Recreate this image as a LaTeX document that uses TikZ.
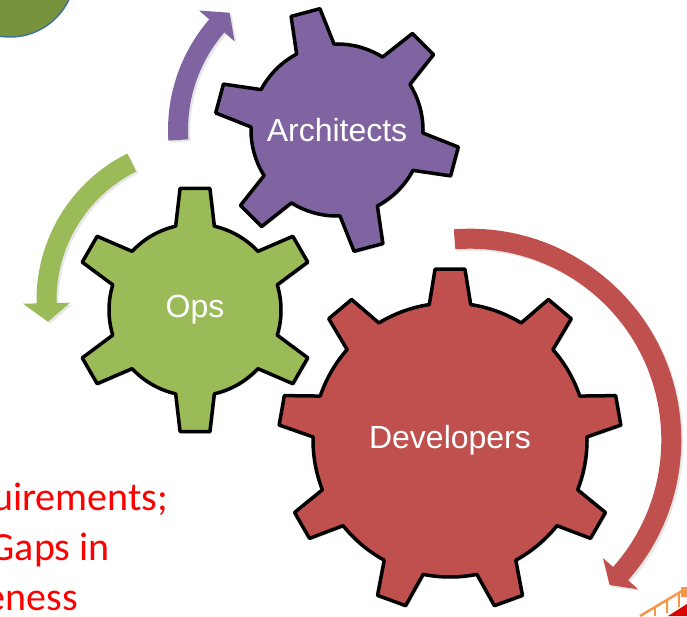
\documentclass[tikz,border=0pt]{standalone}
\usepackage{fontspec}
\newfontfamily\gearfont{Liberation Sans}
\newfontfamily\notefont{Carlito}
\usetikzlibrary{shadows}

\definecolor{archpurple}{HTML}{8064A2}
\definecolor{opsgreen}{HTML}{9BBB59}
\definecolor{devred}{HTML}{C0504D}
\definecolor{ballgreen}{HTML}{77933C}
\definecolor{ballblue}{HTML}{41719C}
\definecolor{fenceorange}{HTML}{F79646}

\tikzset{
  gearline/.style={draw=black, line width=3.5pt, line join=round,
    drop shadow={opacity=0.2, shadow xshift=2pt, shadow yshift=-2pt}},
  gearlabel/.style={text=white, font=\gearfont\fontsize{32}{38}\selectfont},
  notetext/.style={text=red, font=\notefont\fontsize{40}{48}\selectfont,
    inner sep=0pt, anchor=base east},
  arrowshade/.style={drop shadow={opacity=0.2, shadow xshift=2pt, shadow yshift=-2pt}}
}

% #1 centre, #2 teeth, #3 first tooth, #4 body r, #5 tip r, #6 base half angle, #7 tip half angle, #8 colour
\newcommand{\drawgear}[8]{%
  \begin{scope}[shift={(#1)}]
  \draw[gearline, fill=#8] ({#3-#6}:#4)
    \foreach \k in {1,...,#2} {
      -- ({#3+(\k-1)*360/#2-#6}:#4) -- ({#3+(\k-1)*360/#2-#7}:#5)
      -- ({#3+(\k-1)*360/#2+#7}:#5) -- ({#3+(\k-1)*360/#2+#6}:#4)
      arc[start angle={#3+(\k-1)*360/#2+#6}, delta angle={360/#2-2*#6}, radius=#4]
    } -- cycle;
  \end{scope}}

% #1 centre, #2 radius, #3 tail angle, #4 head base angle, #5 tip angle, #6 colour
\newcommand{\turnarrow}[6]{%
  \begin{scope}[shift={(#1)}]
  \fill[#6, arrowshade] (#3:#2+10) arc[start angle=#3, end angle=#4, radius=#2+10]
    -- (#4:#2+23.5) -- (#5:#2) -- (#4:#2-23.5) -- (#4:#2-10)
    arc[start angle=#4, end angle=#3, radius=#2-10] -- cycle;
  \end{scope}}

\begin{document}
\begin{tikzpicture}[x=1pt, y=1pt]
\useasboundingbox (0,0) rectangle (687,616);
\clip (0,0) rectangle (687,616);

\coordinate (archc) at (337,486);
\coordinate (opsc) at (195,306);
\coordinate (devc) at (450,176);
\coordinate (greenc) at (200,316);
\coordinate (redc) at (470,176);

\draw [ballblue, line width=1.5pt, fill=ballgreen] (10,644) circle (65);

\turnarrow{archc}{159}{183.6}{139.1}{132.5}{archpurple}
\turnarrow{greenc}{153.5}{116.4}{181.2}{188.1}{opsgreen}
\turnarrow{redc}{201.3}{94.4}{-41.6}{-46.1}{devred}

\drawgear{archc}{6}{105}{86}{122.5}{13}{7}{archpurple}
\drawgear{opsc}{6}{90}{86}{122.5}{13}{7}{opsgreen}
\drawgear{devc}{9}{90}{137}{171.5}{8.7}{5}{devred}

\node [gearlabel] (arch) at (archc) {Architects};
\node [gearlabel] (ops) at (opsc) {Ops};
\node [gearlabel] (dev) at (devc) {Developers};

\node [notetext] (req) at (168,106) {uirements;};
\node [notetext] (gaps) at (110,56) {Gaps in};
\node [notetext] (aware) at (78,6) {eness};

\fill [red!85!black] (668,0) -- (687,0) -- (687,12) -- cycle;
\fill [fenceorange] (681,19) rectangle (687,29);
\draw [fenceorange, line width=2.5pt] (640,0) -- (687,28);
\draw [fenceorange, line width=2pt] (655,9) -- (655,0);
\draw [fenceorange, line width=2pt] (667,16) -- (667,3);
\draw [fenceorange, line width=2pt] (679,23) -- (679,9);
\end{tikzpicture}
\end{document}
